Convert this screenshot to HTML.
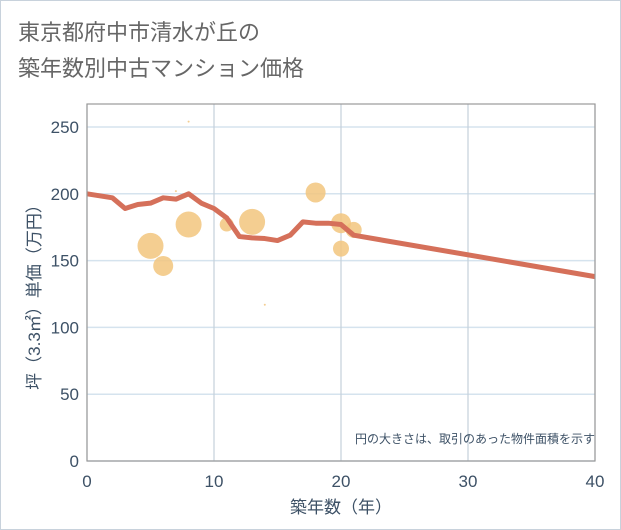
<!DOCTYPE html>
<html><head><meta charset="utf-8"><style>
body{margin:0;background:#fff;font-family:"Liberation Sans","Noto Sans CJK JP",sans-serif}
#wrap{position:absolute;left:0;top:0;width:619px;height:528px;border:1px solid #c8d2dc;background:#fff}
</style></head><body>
<div id="wrap">
<svg id="chart" width="621" height="530" style="position:absolute;left:-1px;top:-1px">
<text x="18" y="40" font-size="22" fill="#666" font-family="Liberation Sans, Noto Sans CJK JP, sans-serif">東京都府中市清水が丘の</text>
<text x="18" y="76" font-size="22" fill="#666" font-family="Liberation Sans, Noto Sans CJK JP, sans-serif">築年数別中古マンション価格</text>
<g id="grid"></g><g id="bubbles"></g><g id="line"></g><g id="axes"></g>
<text x="595" y="443" font-size="12" fill="#3d5166" text-anchor="end" font-family="Liberation Sans, Noto Sans CJK JP, sans-serif">円の大きさは、取引のあった物件面積を示す</text>
<text x="341" y="513" font-size="17" fill="#3d5166" text-anchor="middle" font-family="Liberation Sans, Noto Sans CJK JP, sans-serif">築年数（年）</text>
<text transform="translate(40,293) rotate(-90)" font-size="17" fill="#3d5166" text-anchor="middle" font-family="Liberation Sans, Noto Sans CJK JP, sans-serif">坪（3.3㎡）単価（万円）</text>
</svg></div>
<script>
const xTicks=[0,10,20,30,40];
const yTicks=[0,50,100,150,200,250];
const lineX=[0,2,3,4,5,6,7,8,9,10,11,12,13,14,15,16,17,18,19,20,21,40];
const lineY=[200,197,189,192,193,197,196,200,193,189,182,168,167,166.5,165,169,179,178,178,177,169,138];
const bubX=[5,6,8,11,13,18,20,20,21,8,14,7];
const bubY=[161,146,177,177,179,201,178,159,173,254,117,202];
const bubR=[13,10,13,7,13,10,10,8,8,1,1,1];
const NS="http://www.w3.org/2000/svg";
const L=87,R=595,T=104,B=461;
const sx=v=>L+(v/40)*(R-L);
const sy=v=>B-v*1.336;
function mk(t,a,p){const e=document.createElementNS(NS,t);for(const k in a)e.setAttribute(k,a[k]);p.appendChild(e);return e;}
const g=document.getElementById('grid'),ax=document.getElementById('axes');
const bg=mk('rect',{x:L,y:T,width:R-L,height:B-T,fill:'#fff'},g);


yTicks.forEach(v=>{
 const l=mk('line',{x1:L,x2:R,y1:sy(v),y2:sy(v),stroke:'#d5e3ee','stroke-width':1.5},g);
 
 
 const t=mk('text',{x:L-8,y:sy(v)+6,'font-size':17,fill:'#3d5166','text-anchor':'end'},ax);
 t.textContent=v;
 
 
});
xTicks.forEach(v=>{
 const l=mk('line',{x1:sx(v),x2:sx(v),y1:T,y2:B,stroke:'#c5d0da','stroke-width':1.2},g);
 
 
 const t=mk('text',{x:sx(v),y:B+26,'font-size':17,fill:'#3d5166','text-anchor':'middle'},ax);
 t.textContent=v;
 
 
});
const fr=mk('rect',{x:L,y:T,width:R-L,height:B-T,fill:'none',stroke:'#999','stroke-width':1.2},ax);


const bb=document.getElementById('bubbles');
bubX.forEach((x,i)=>{
 const c=mk('circle',{cx:sx(x),cy:sy(bubY[i]),r:bubR[i],fill:'#f2c57e','fill-opacity':0.85},bb);
 
 
});
const p=mk('polyline',{points:lineX.map((x,i)=>sx(x)+','+sy(lineY[i])).join(' '),fill:'none',stroke:'#d5705a','stroke-width':5,'stroke-linejoin':'round'},document.getElementById('line'));


</script>
</body></html>
